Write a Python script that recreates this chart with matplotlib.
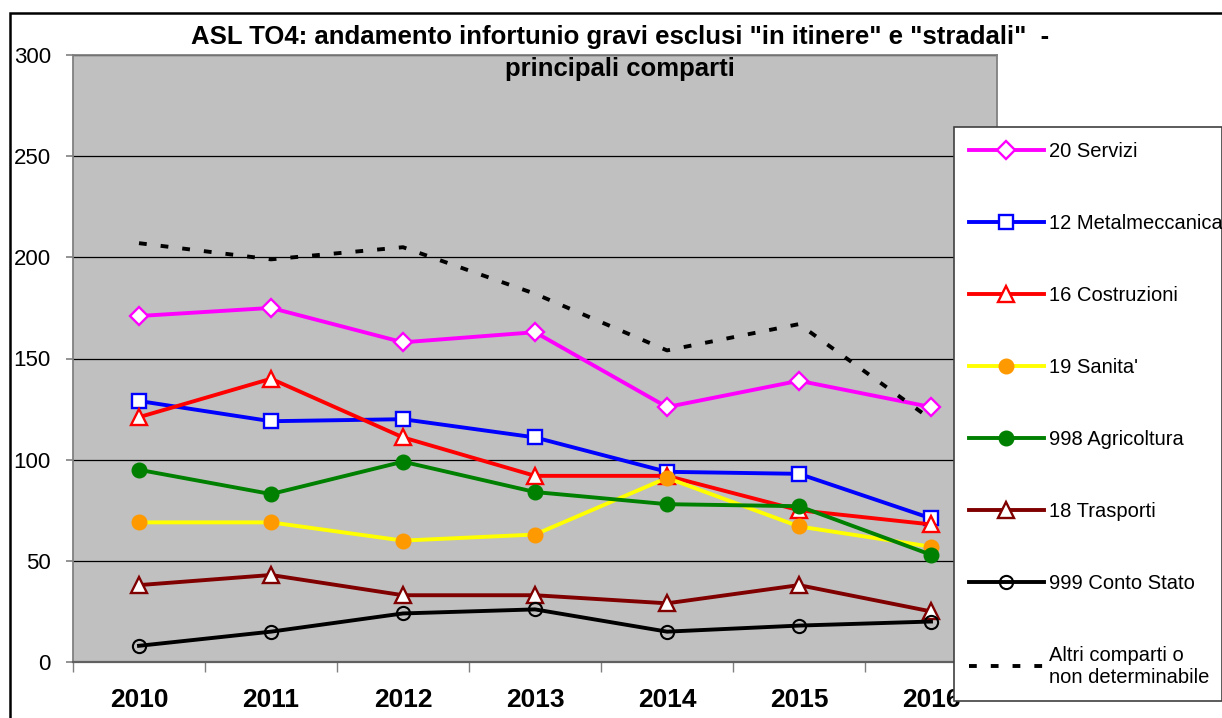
import matplotlib
matplotlib.use("Agg")
import matplotlib.pyplot as plt
from matplotlib.patches import Rectangle

plt.rcParams['font.family'] = ['Liberation Sans', 'DejaVu Sans']

# ---------------------------
# dati
# ---------------------------
years = ["2010", "2011", "2012", "2013", "2014", "2015", "2016"]

servizi = [171, 175, 158, 163, 126, 139, 126]
metalmeccanica = [129, 119, 120, 111, 94, 93, 71]
costruzioni = [121, 140, 111, 92, 92, 75, 68]
sanita = [69, 69, 60, 63, 91, 67, 57]
agricoltura = [95, 83, 99, 84, 78, 77, 53]
trasporti = [38, 43, 33, 33, 29, 38, 25]
conto_stato = [8, 15, 24, 26, 15, 18, 20]
altri = [207, 199, 205, 182, 154, 167, 120]

W, H = 1222, 718
fig = plt.figure(figsize=(W / 100, H / 100), dpi=100)
fig.patch.set_facecolor("white")

ax = fig.add_axes([73 / W, (H - 662) / H, (997 - 73) / W, (662 - 55) / H])
ax.set_facecolor("#C0C0C0")
x = list(range(len(years)))

lw = 2.8
ax.plot(x, servizi, color="#FF00FF", lw=lw, marker="D", ms=9,
        mfc="white", mec="#FF00FF", mew=1.7, label="20 Servizi")
ax.plot(x, metalmeccanica, color="#0000FF", lw=lw, marker="s", ms=10,
        mfc="white", mec="#0000FF", mew=1.7, label="12 Metalmeccanica")
ax.plot(x, costruzioni, color="#FF0000", lw=lw, marker="^", ms=11.5,
        mfc="white", mec="#FF0000", mew=1.7, label="16 Costruzioni")
ax.plot(x, sanita, color="#FFFF00", lw=lw, marker="o", ms=10.5,
        mfc="#FF9900", mec="#FF9900", label="19 Sanita'")
ax.plot(x, agricoltura, color="#008000", lw=lw, marker="o", ms=10.5,
        mfc="#008000", mec="#008000", label="998 Agricoltura")
ax.plot(x, trasporti, color="#800000", lw=lw, marker="^", ms=11.5,
        mfc="white", mec="#800000", mew=1.7, label="18 Trasporti")
ax.plot(x, conto_stato, color="black", lw=lw, marker="o", ms=9.5,
        mfc="none", mec="black", mew=1.5, label="999 Conto Stato")
ax.plot(x, altri, color="black", lw=lw, dashes=(2, 3.6),
        label="Altri comparti o\nnon determinabile")

ax.set_xlim(-0.5, 6.5)
ax.set_ylim(0, 300)
ax.set_yticks(range(0, 301, 50))
ax.yaxis.grid(True, color="black", lw=0.9)
ax.set_axisbelow(True)
ax.tick_params(axis="y", length=5, width=1.2, color="#808080",
               labelsize=16, pad=11)

ax.set_xticks(x)
ax.set_xticklabels(years, fontsize=19, fontweight="bold")
ax.set_xticks([i - 0.5 for i in range(len(years) + 1)], minor=True)
ax.tick_params(axis="x", which="major", length=0, pad=19)
ax.tick_params(axis="x", which="minor", length=7, width=1, color="#808080")

for side in ["top", "right", "left"]:
    ax.spines[side].set_color("#808080")
    ax.spines[side].set_linewidth(1.3)
ax.spines["bottom"].set_color("#606060")
ax.spines["bottom"].set_linewidth(1.6)

# titolo
fig.text(620 / W, (H - 53) / H,
         "ASL TO4: andamento infortunio gravi esclusi \"in itinere\" e \"stradali\"  -\nprincipali comparti",
         ha="center", va="center", fontsize=18.5, fontweight="bold",
         linespacing=1.42)

# cornice esterna
fig.patches.append(Rectangle((10 / W, -0.1), 1.2, (H - 13) / H + 0.1,
                             transform=fig.transFigure, fill=False,
                             edgecolor="black", lw=1.8, zorder=0))

leg = fig.legend(loc="upper left",
                 bbox_to_anchor=(954 / W, (H - 128) / H, (W - 954) / W, 0.001),
                 mode="expand", borderaxespad=0, fontsize=14.5,
                 labelspacing=2.63, handlelength=3.75, handletextpad=0.25,
                 borderpad=0.72, fancybox=False, framealpha=1)
leg.get_frame().set_edgecolor("#404040")
leg.get_frame().set_linewidth(1.2)

fig.savefig("out.png", dpi=100)
